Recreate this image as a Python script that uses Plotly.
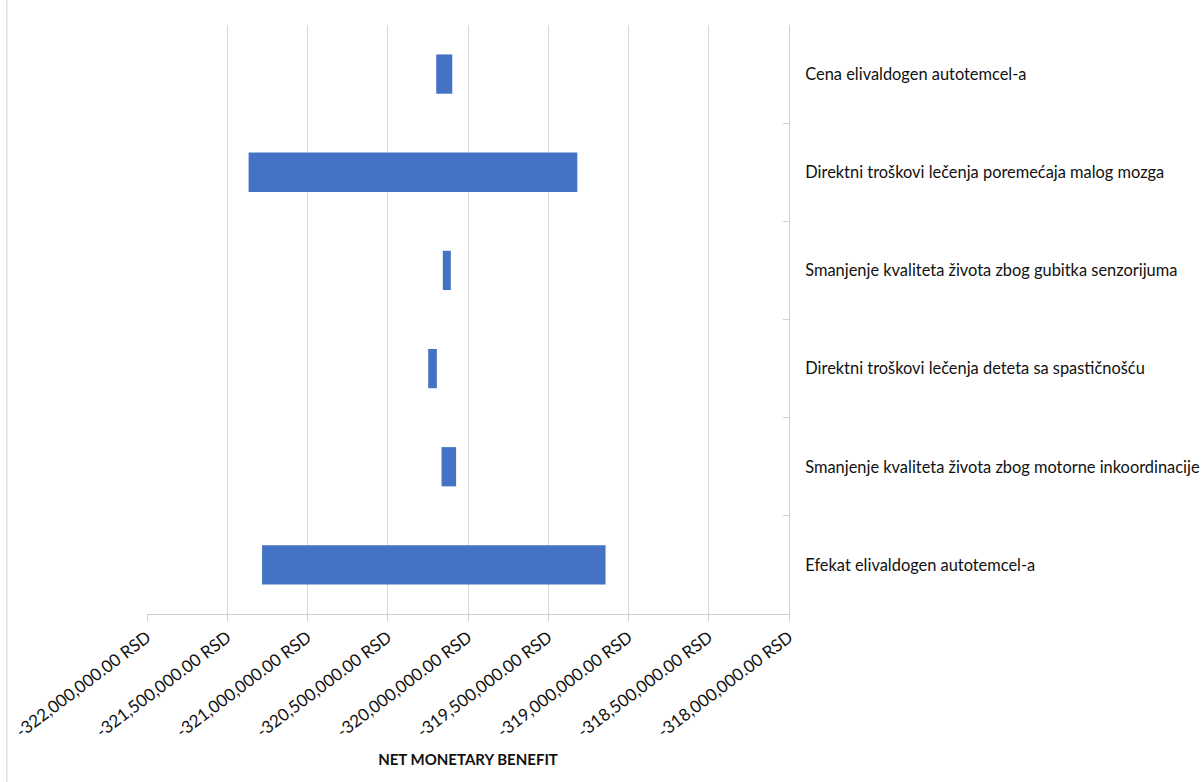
import plotly.graph_objects as go

categories = [
    "Cena elivaldogen autotemcel-a",
    "Direktni troškovi lečenja poremećaja malog mozga",
    "Smanjenje kvaliteta života zbog gubitka senzorijuma",
    "Direktni troškovi lečenja deteta sa spastičnošću",
    "Smanjenje kvaliteta života zbog motorne inkoordinacije",
    "Efekat elivaldogen autotemcel-a",
]
low_values = [-320198000, -321367000, -320157000, -320248000, -320165000, -321283000]
high_values = [-320098000, -319319000, -320107000, -320194000, -320074000, -319143000]

tick_vals = [-322000000, -321500000, -321000000, -320500000, -320000000,
             -319500000, -319000000, -318500000, -318000000]
tick_text = [f"{v:,.2f} RSD" for v in tick_vals]

font_family = "Lato, Open Sans, sans-serif"

fig = go.Figure()
fig.add_trace(go.Bar(
    y=categories,
    x=[h - l for h, l in zip(high_values, low_values)],
    base=low_values,
    orientation="h",
    width=0.4,
    marker=dict(color="#4472C4", line=dict(width=0)),
    hoverinfo="skip",
))

fig.update_layout(
    width=1201, height=782,
    margin=dict(l=147, r=412, t=25, b=168, autoexpand=False),
    paper_bgcolor="white", plot_bgcolor="white",
    showlegend=False,
    font=dict(family=font_family, size=16, color="#111111"),
    xaxis=dict(
        range=[-322000000, -318000000],
        tickvals=tick_vals, ticktext=tick_text,
        tickangle=-37,
        automargin=False,
        showgrid=True, gridcolor="#d9d9d9", gridwidth=1,
        showline=True, linecolor="#d0d0d0", linewidth=1,
        ticks="outside", ticklen=6, tickcolor="#d0d0d0",
        tickfont=dict(family=font_family, size=17, color="#111111"),
        zeroline=False,
        title=dict(text="<b>NET MONETARY BENEFIT</b>",
                   font=dict(family=font_family, size=15, color="#111111"),
                   standoff=14),
        fixedrange=True,
    ),
    yaxis=dict(
        type="category",
        categoryorder="array",
        categoryarray=categories[::-1],
        side="right",
        automargin=False,
        showgrid=False,
        showline=True, linecolor="#d0d0d0", linewidth=1,
        ticks="inside", ticklen=6, tickcolor="#d0d0d0",
        tickson="boundaries",
        ticklabelstandoff=12,
        tickfont=dict(family=font_family, size=16.4, color="#111111"),
        fixedrange=True,
    ),
    shapes=[dict(
        type="line", xref="paper", yref="paper",
        x0=-140 / 641.6, x1=-140 / 641.6,
        y0=-168 / 589, y1=1 + 25 / 589,
        line=dict(color="#d0d0d0", width=1),
    )],
)

fig.write_html("out.html")
